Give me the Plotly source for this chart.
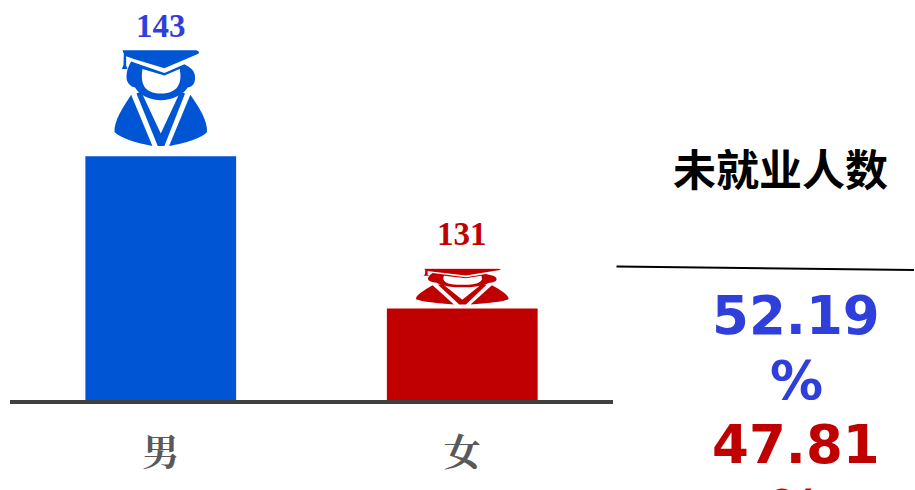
import base64
import plotly.graph_objects as go

categories = ["男", "女"]
values = [143, 131]
bar_colors = ["#0055D4", "#C00000"]
label_colors = ["#2F3FDB", "#C00000"]
share_texts = ["52.19", "%", "47.81", "%"]
share_colors = ["#2F3FDB", "#2F3FDB", "#C00000", "#C00000"]
title_text = "未就业人数"

W, H = 915, 490
L, R, T, B = 9.5, 301.5, 0, 90
PLOT_H = H - T - B
PLOT_W = W - L - R
Y_MIN, Y_MAX = 123.78, 155.32
ICON_RATIO = 0.405
GAP_RATIO = 0.035


def icon(color):
    svg = f'''<svg xmlns="http://www.w3.org/2000/svg" width="282" height="297" viewBox="0 0 282 297" preserveAspectRatio="none">
<g fill="{color}">
<path d="M26 4 L248 4 Q260 8 254 14 L152 58 L60 30 L37 22 L37 50 L41 60 L24 60 L29 48 L30 14 Z"/>
<path fill-rule="evenodd" d="M52 38 L152 72 L212 46 C230 56 246 66 244 90 C243 108 232 114 222 116 C208 140 172 154 142 154 C110 154 76 140 64 116 C48 112 38 100 38 84 C38 66 44 52 52 38 Z M86 60 C80 100 88 134 142 134 C194 134 206 100 198 60 L152 80 Z"/>
<path d="M52 138 L116 292 C70 284 18 268 2 250 C0 216 28 176 52 138 Z"/>
<path d="M230 138 L166 292 C214 284 266 268 280 250 C282 216 256 176 230 138 Z"/>
<path d="M68 134 L82 128 L141 254 L200 128 L214 134 L152 292 L132 292 Z"/>
</g></svg>'''
    return "data:image/svg+xml;base64," + base64.b64encode(svg.encode()).decode()


fig = go.Figure(go.Bar(
    x=categories, y=values, width=0.5,
    marker=dict(color=bar_colors, line=dict(width=0)),
    hoverinfo="skip",
))

images, annotations = [], []
label_shift = [23, 34]
for i, (v, bc, lc) in enumerate(zip(values, bar_colors, label_colors)):
    span = v - Y_MIN
    images.append(dict(
        source=icon(bc), xref="x", yref="y", x=i, y=v + span * GAP_RATIO + span * ICON_RATIO,
        sizex=94 / (PLOT_W / 2), sizey=span * ICON_RATIO,
        xanchor="center", yanchor="top", sizing="stretch", layer="above",
    ))
    annotations.append(dict(
        xref="x", yref="y", x=i, y=v + span * (GAP_RATIO + ICON_RATIO),
        yshift=label_shift[i], yanchor="middle", showarrow=False, text=f"<b>{v}</b>",
        font=dict(family="Liberation Serif, serif", size=33, color=lc),
    ))

annotations.append(dict(
    xref="paper", yref="paper", x=(781 - L) / PLOT_W, y=(H - B - 167) / PLOT_H,
    xanchor="center", yanchor="middle", showarrow=False, text=f"<b>{title_text}</b>",
    font=dict(family="Noto Sans CJK SC", size=43, color="#000000"),
))
for txt, col, cy in zip(share_texts, share_colors, [315.5, 380, 444.5, 509]):
    annotations.append(dict(
        xref="paper", yref="paper", x=(797 - L) / PLOT_W, y=(H - B - cy) / PLOT_H,
        xanchor="center", yanchor="middle", showarrow=False, text=f"<b>{txt}</b>",
        font=dict(family="DejaVu Sans", size=53, color=col),
    ))

fig.update_layout(
    width=W, height=H, autosize=False,
    margin=dict(l=L, r=R, t=T, b=B, pad=0),
    paper_bgcolor="white", plot_bgcolor="white",
    showlegend=False, images=images, annotations=annotations,
    shapes=[dict(
        type="line", xref="paper", yref="paper", layer="above",
        x0=(617 - L) / PLOT_W, y0=(H - B - 266.5) / PLOT_H,
        x1=(915 - L) / PLOT_W, y1=(H - B - 270) / PLOT_H,
        line=dict(color="#000000", width=2),
    )],
    xaxis=dict(
        type="category", categoryorder="array", categoryarray=categories,
        tickmode="array", tickvals=categories, ticktext=[f"<b>{c}</b>" for c in categories],
        showgrid=False, zeroline=False, showline=True, linecolor="#404040", linewidth=4,
        ticks="", ticklabelstandoff=18,
        tickfont=dict(family="Liberation Serif, Noto Serif CJK SC, serif", size=37, color="#595959"),
    ),
    yaxis=dict(range=[Y_MIN, Y_MAX], visible=False, showgrid=False, zeroline=False),
)
fig.write_html(
    "out.html", config=dict(displayModeBar=False),
    post_script="document.documentElement.style.overflow='hidden';document.body.style.margin='0';document.body.style.overflow='hidden';",
)
